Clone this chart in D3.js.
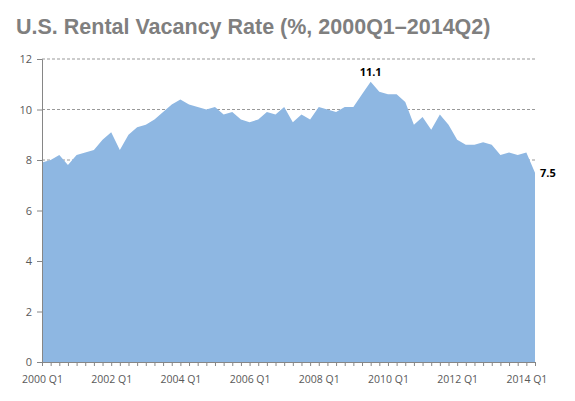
<!DOCTYPE html>
<html>
<head>
<meta charset="utf-8">
<script src="https://cdn.jsdelivr.net/npm/d3@7"></script>
<style>
  body { margin: 0; background: #fff; }
  svg { display: block; }
</style>
</head>
<body>
<div id="chart"></div>
<script>
// quarterly categories, 2000Q1 - 2014Q2
const quarters = [
  "2000 Q1","2000 Q2","2000 Q3","2000 Q4",
  "2001 Q1","2001 Q2","2001 Q3","2001 Q4",
  "2002 Q1","2002 Q2","2002 Q3","2002 Q4",
  "2003 Q1","2003 Q2","2003 Q3","2003 Q4",
  "2004 Q1","2004 Q2","2004 Q3","2004 Q4",
  "2005 Q1","2005 Q2","2005 Q3","2005 Q4",
  "2006 Q1","2006 Q2","2006 Q3","2006 Q4",
  "2007 Q1","2007 Q2","2007 Q3","2007 Q4",
  "2008 Q1","2008 Q2","2008 Q3","2008 Q4",
  "2009 Q1","2009 Q2","2009 Q3","2009 Q4",
  "2010 Q1","2010 Q2","2010 Q3","2010 Q4",
  "2011 Q1","2011 Q2","2011 Q3","2011 Q4",
  "2012 Q1","2012 Q2","2012 Q3","2012 Q4",
  "2013 Q1","2013 Q2","2013 Q3","2013 Q4",
  "2014 Q1","2014 Q2"
];

// rental vacancy rate, %
const vacancy = [
  7.9, 8.0, 8.2, 7.8,
  8.2, 8.3, 8.4, 8.8,
  9.1, 8.4, 9.0, 9.3,
  9.4, 9.6, 9.9, 10.2,
  10.4, 10.2, 10.1, 10.0,
  10.1, 9.8, 9.9, 9.6,
  9.5, 9.6, 9.9, 9.8,
  10.1, 9.5, 9.8, 9.6,
  10.1, 10.0, 9.9, 10.1,
  10.1, 10.6, 11.1, 10.7,
  10.6, 10.6, 10.3, 9.4,
  9.7, 9.2, 9.8, 9.4,
  8.8, 8.6, 8.6, 8.7,
  8.6, 8.2, 8.3, 8.2,
  8.3, 7.5
];

const tickLabels = ["2000 Q1","2002 Q1","2004 Q1","2006 Q1","2008 Q1","2010 Q1","2012 Q1","2014 Q1"];
const yTicks = [0, 2, 4, 6, 8, 10, 12];
const callouts = ["2009 Q3", "2014 Q2"];

const data = quarters.map((q, i) => ({ q: q, v: vacancy[i] }));

// set the dimensions and margins of the graph
const W = 575, H = 401;
const margin = { top: 59, right: 40, bottom: 39, left: 42 },
  width = W - margin.left - margin.right,
  height = H - margin.top - margin.bottom;

const svg = d3.select("#chart")
  .append("svg")
  .attr("width", W)
  .attr("height", H);

svg.append("text")
  .attr("x", 16)
  .attr("y", 34)
  .attr("font-family", "Liberation Sans, Arial, sans-serif")
  .attr("font-weight", "bold")
  .attr("font-size", 21.5)
  .attr("fill", "#7f7f7f")
  .text("U.S. Rental Vacancy Rate (%, 2000Q1\u20132014Q2)");

const g = svg.append("g")
  .attr("transform", `translate(${margin.left},${margin.top})`);

// scales
const x = d3.scalePoint()
  .domain(quarters)
  .range([0, width]);
const y = d3.scaleLinear()
  .domain([0, 12])
  .range([height, 0]);

// dashed gridlines (behind the area)
g.append("g")
  .selectAll("line")
  .data(yTicks.filter(d => d > 0))
  .join("line")
  .attr("x1", 0)
  .attr("x2", width)
  .attr("y1", d => y(d))
  .attr("y2", d => y(d))
  .attr("stroke", "#999")
  .attr("stroke-width", 1)
  .attr("stroke-dasharray", "3,2");

// area
const area = d3.area()
  .x(d => x(d.q))
  .y0(y(0))
  .y1(d => y(d.v));

g.append("path")
  .datum(data)
  .attr("d", area)
  .attr("fill", "#8eb7e2");

// Y axis
const yAxis = g.append("g")
  .call(d3.axisLeft(y).tickValues(yTicks).tickSize(5).tickPadding(5));
yAxis.select(".domain").attr("stroke", "#868686");
yAxis.selectAll(".tick line").attr("stroke", "#868686");
yAxis.selectAll("text")
  .attr("font-family", "Open Sans, sans-serif")
  .attr("font-size", 11)
  .attr("fill", "#595959");

// X axis (minor tick on every quarter, label every 2 years)
const xAxis = g.append("g")
  .attr("transform", `translate(0,${height})`)
  .call(d3.axisBottom(x)
    .tickSizeInner(4)
    .tickSizeOuter(0)
    .tickPadding(10)
    .tickFormat(d => tickLabels.includes(d) ? d : ""));
xAxis.select(".domain").attr("stroke", "#868686");
xAxis.selectAll(".tick line").attr("stroke", "#868686");
xAxis.selectAll("text")
  .attr("font-family", "Open Sans, sans-serif")
  .attr("font-size", 10.5)
  .attr("fill", "#595959");

// value callouts
const cData = data.filter(d => callouts.includes(d.q));
g.selectAll(".callout")
  .data(cData)
  .join("text")
  .attr("class", "callout")
  .attr("x", (d, i) => i === 0 ? x(d.q) : x(d.q) + 5)
  .attr("y", (d, i) => i === 0 ? y(d.v) - 6 : y(d.v) + 4)
  .attr("text-anchor", (d, i) => i === 0 ? "middle" : "start")
  .attr("font-family", "Open Sans, sans-serif")
  .attr("font-weight", "bold")
  .attr("font-size", 11)
  .attr("fill", "#000")
  .text(d => d3.format(".1f")(d.v));
</script>
</body>
</html>
